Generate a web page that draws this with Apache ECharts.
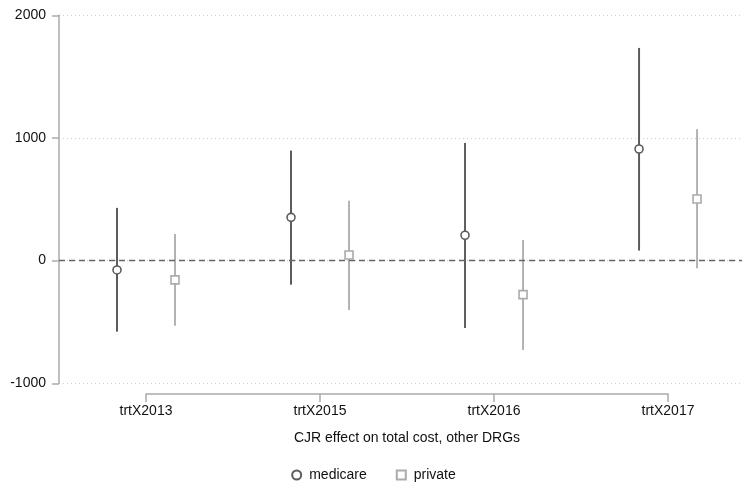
<!DOCTYPE html>
<html>
<head>
<meta charset="utf-8">
<script src="https://cdn.jsdelivr.net/npm/echarts@6/dist/echarts.min.js"></script>
<style>
html,body{margin:0;padding:0;background:#fff;}
#c{width:747px;height:486px;}
</style>
</head>
<body>
<div id="c"></div>
<script>
var categories = ['trtX2013', 'trtX2015', 'trtX2016', 'trtX2017'];
var medicarePoint = [-76, 353, 207, 910];
var medicareLow = [-579, -196, -549, 82];
var medicareHigh = [430, 897, 959, 1734];
var privatePoint = [-157, 46, -277, 503];
var privateLow = [-530, -402, -728, -63];
var privateHigh = [218, 489, 169, 1071];
var yTicks = [-1000, 0, 1000, 2000];
var offset = 1 / 6;

var FONT = '"Liberation Sans", Arial, Helvetica, sans-serif';

function pts(vals, off) {
  return vals.map(function (v, i) { return [i + 1 + off, v]; });
}
function bars(lo, hi, off) {
  return lo.map(function (v, i) { return [i + 1 + off, v, hi[i]]; });
}
function errRender(color, width) {
  return function (params, api) {
    var x = api.value(0);
    var p1 = api.coord([x, api.value(1)]);
    var p2 = api.coord([x, api.value(2)]);
    return {
      type: 'line',
      shape: { x1: p1[0], y1: p1[1], x2: p2[0], y2: p2[1] },
      style: { stroke: color, lineWidth: width }
    };
  };
}

var medColor = '#5c5c5c';
var priColor = '#ababab';

var chart = echarts.init(document.getElementById('c'), null, { renderer: 'canvas' });
chart.setOption({
  animation: false,
  backgroundColor: '#fff',
  grid: [
    { left: 59, right: 5, top: 15.3, bottom: 102.7 },
    { left: 146, right: 79, top: 15.3, bottom: 92 }
  ],
  xAxis: [
    { gridIndex: 0, type: 'value', min: 0.5, max: 4.425, show: false },
    {
      gridIndex: 1, type: 'value', min: 1, max: 4, interval: 1,
      axisLine: { show: true, lineStyle: { color: '#aaaaaa', width: 1.5 } },
      axisTick: { show: true, length: 8, lineStyle: { color: '#aaaaaa', width: 1.5 } },
      splitLine: { show: false },
      axisLabel: {
        color: '#111', fontFamily: FONT, fontSize: 14, margin: 10,
        formatter: function (v) { return categories[Math.round(v) - 1] || ''; }
      },
      name: 'CJR effect on total cost, other DRGs',
      nameLocation: 'middle', nameGap: 37,
      nameTextStyle: { color: '#111', fontFamily: FONT, fontSize: 14 }
    }
  ],
  yAxis: [
    {
      gridIndex: 0, type: 'value', min: yTicks[0], max: yTicks[yTicks.length - 1], interval: 1000,
      axisLine: { show: true, lineStyle: { color: '#aaaaaa', width: 1.5 } },
      axisTick: { show: true, length: 7, lineStyle: { color: '#aaaaaa', width: 1.5 } },
      axisLabel: {
        color: '#111', fontFamily: FONT, fontSize: 14, margin: 13,
        formatter: function (v) { return String(v); }
      },
      splitLine: {
        show: true,
        lineStyle: { color: '#cccccc', type: [1, 3], width: 1 }
      }
    },
    { gridIndex: 1, type: 'value', min: 0, max: 1, show: false }
  ],
  legend: {
    top: 463, left: 'center',
    itemGap: 29, itemWidth: 9, itemHeight: 9,
    textStyle: { color: '#111', fontFamily: FONT, fontSize: 14, padding: [0, 0, 0, 3] },
    data: ['medicare', 'private']
  },
  series: [
    {
      type: 'custom', name: 'medicareCI', xAxisIndex: 0, yAxisIndex: 0,
      renderItem: errRender(medColor, 2),
      data: bars(medicareLow, medicareHigh, -offset), z: 2,
      markLine: {
        silent: true, symbol: 'none', label: { show: false },
        lineStyle: { color: '#666666', type: [6, 4], width: 1.3 },
        data: [{ yAxis: 0 }]
      }
    },
    {
      type: 'custom', name: 'privateCI', xAxisIndex: 0, yAxisIndex: 0,
      renderItem: errRender(priColor, 1.8),
      data: bars(privateLow, privateHigh, offset), z: 2
    },
    {
      type: 'scatter', name: 'medicare', xAxisIndex: 0, yAxisIndex: 0,
      symbol: 'circle', symbolSize: 8,
      itemStyle: { color: '#ffffff', borderColor: medColor, borderWidth: 1.6, opacity: 1 },
      data: pts(medicarePoint, -offset), z: 5
    },
    {
      type: 'scatter', name: 'private', xAxisIndex: 0, yAxisIndex: 0,
      symbol: 'rect', symbolSize: 8,
      itemStyle: { color: '#ffffff', borderColor: priColor, borderWidth: 1.6, opacity: 1 },
      data: pts(privatePoint, offset), z: 5
    }
  ]
});
</script>
</body>
</html>
